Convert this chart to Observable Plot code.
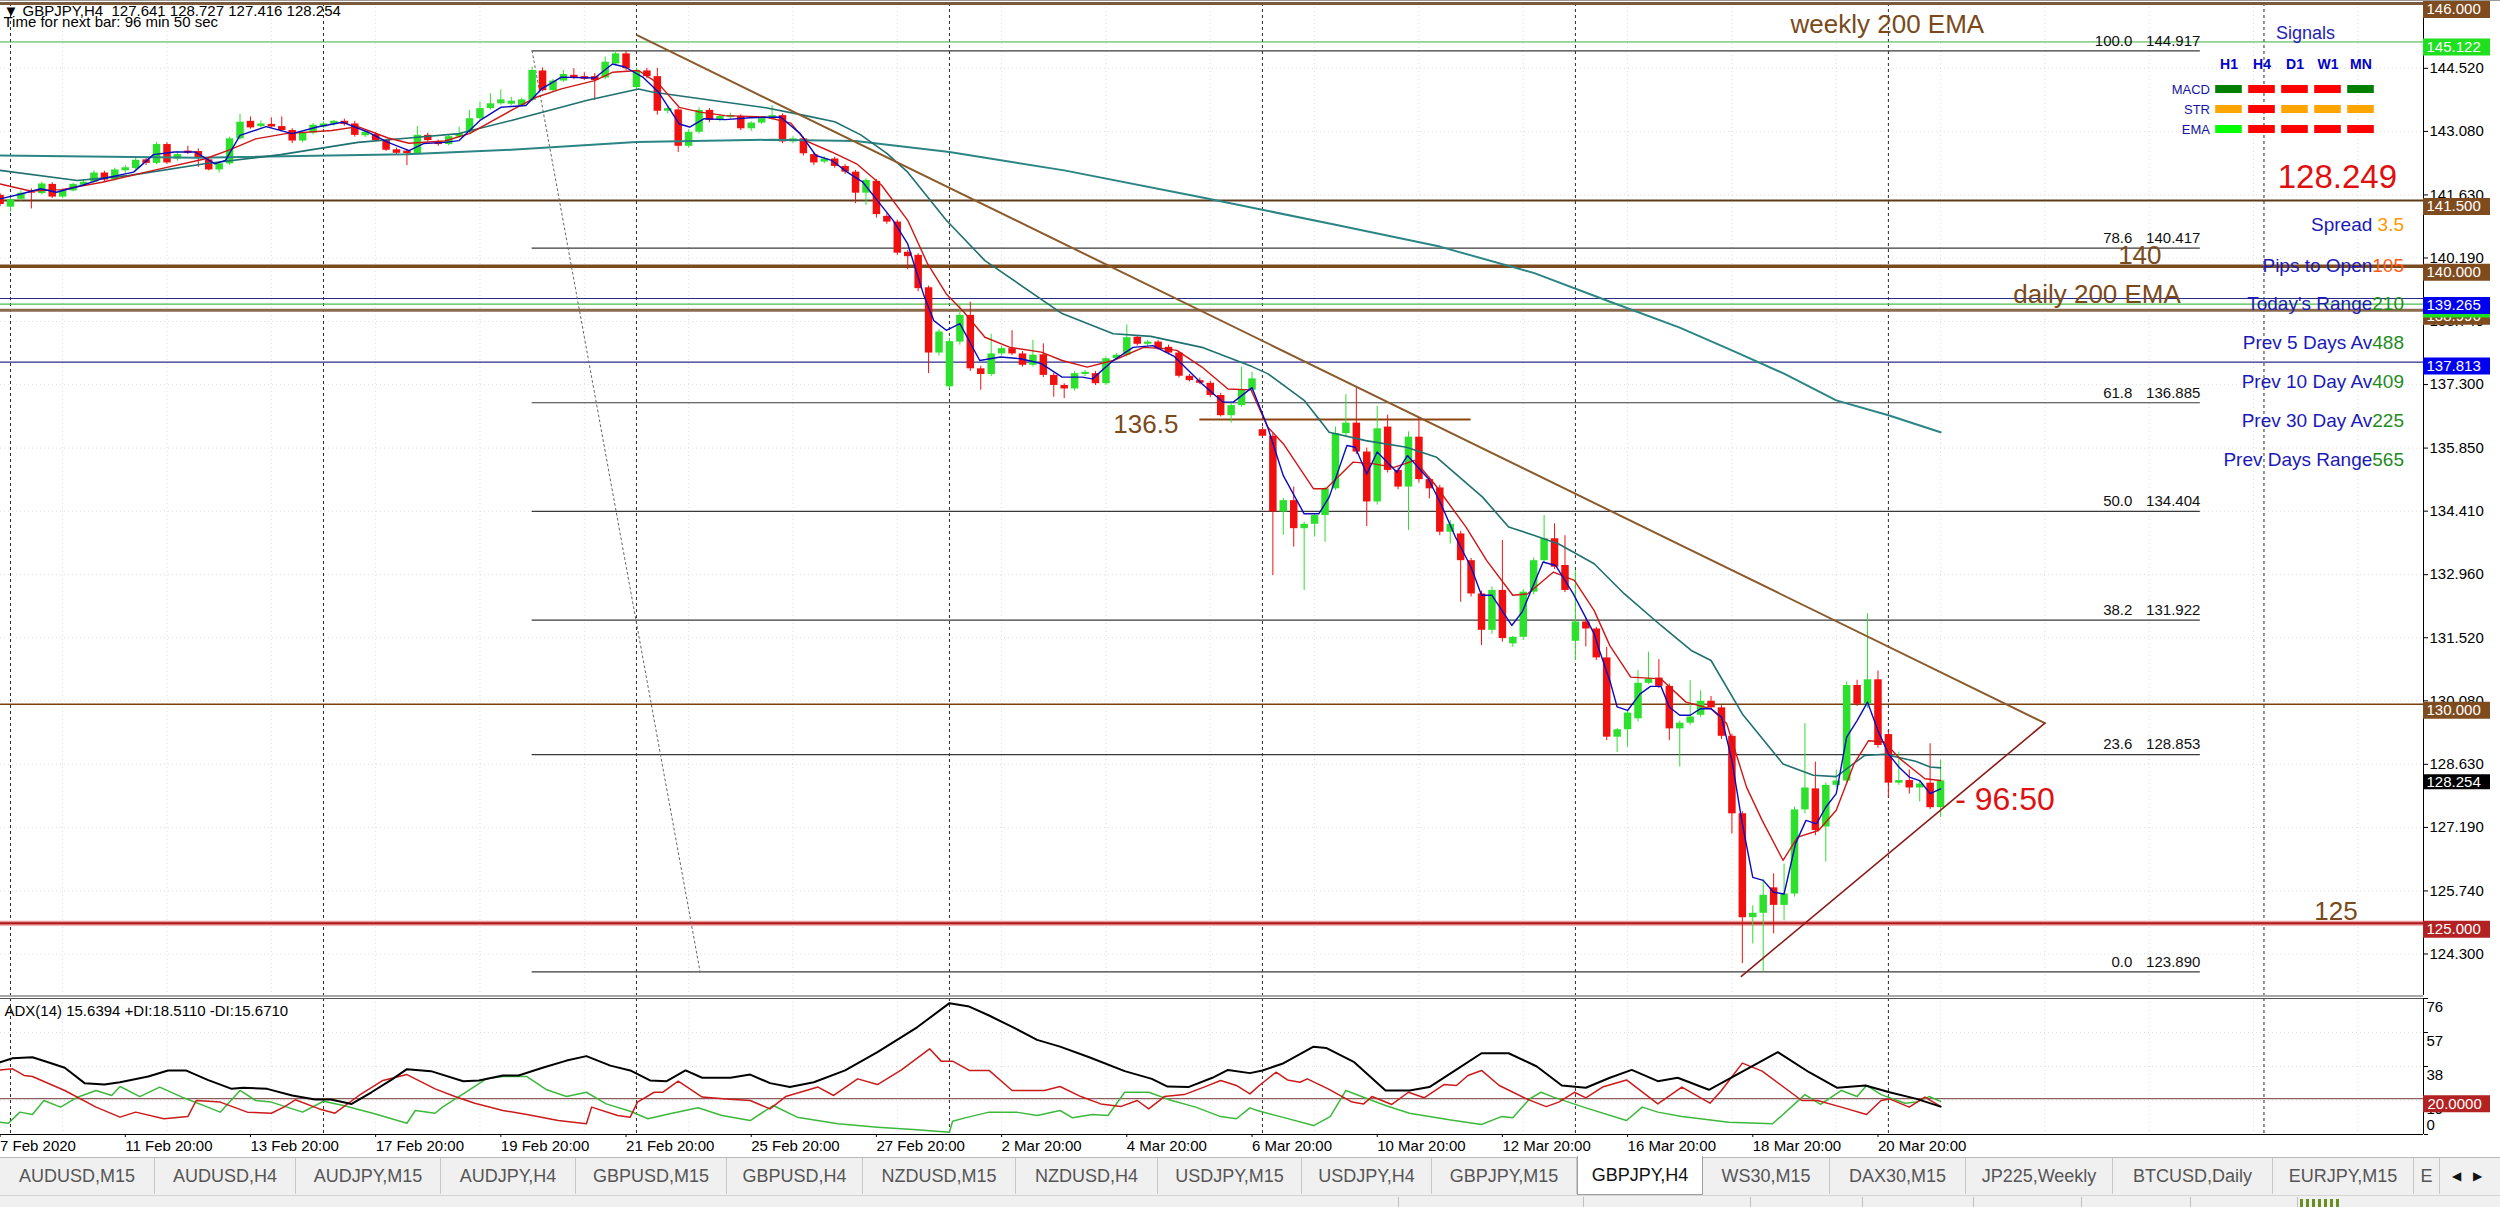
<!DOCTYPE html>
<html>
<head>
<meta charset="utf-8">
<title>GBPJPY,H4</title>
<script src="https://cdn.jsdelivr.net/npm/d3@7"></script>
<script src="https://cdn.jsdelivr.net/npm/@observablehq/plot@0.6"></script>
<style>
  html, body { margin: 0; padding: 0; background: #ffffff; }
  #root { position: relative; width: 2500px; height: 1207px; overflow: hidden; background: #ffffff;
          font-family: "Liberation Sans", Arial, sans-serif; }
  .hud { position: absolute; white-space: nowrap; line-height: 1; }
</style>
</head>
<body>
<div id="root"></div>
<script>
// ======================= DATA =======================
// H4 bars, bar index 0 = Mon 10 Feb 2020 00:00, first visible bar = -1
const firstBar = -1;
const opens = [141.62,
 141.35,141.53,141.70,141.66,141.87,141.58,141.72,141.85,141.92,142.13,
 141.98,142.18,142.23,142.43,142.35,142.78,142.45,142.63,142.62,142.43,
 142.20,142.34,142.91,143.31,143.19,143.24,143.19,143.10,142.86,143.04,
 143.18,143.24,143.31,143.25,142.98,143.01,142.87,142.66,142.63,142.57,
 142.99,142.84,142.78,142.95,143.06,143.37,143.60,143.71,143.70,143.67,
 143.79,144.46,144.01,144.23,144.36,144.33,144.33,144.30,144.62,144.85,
 144.08,144.46,144.33,143.54,143.57,142.74,143.06,143.56,143.33,143.40,
 143.42,143.14,143.27,143.37,143.44,142.84,142.91,142.55,142.38,142.45,
 142.28,142.15,141.67,141.94,141.14,141.01,140.32,140.25,139.51,138.02,
 137.25,138.27,138.88,137.66,137.53,138.00,138.12,138.00,137.74,137.98,
 137.51,137.28,137.20,137.53,137.55,137.32,137.89,137.97,138.38,138.22,
 138.27,138.15,138.02,137.49,137.39,137.33,137.05,136.59,136.82,137.17,
 136.27,136.12,134.39,134.65,134.01,134.11,134.31,134.92,136.18,136.42,
 135.76,134.62,136.33,135.34,134.96,136.10,135.13,134.94,133.93,133.89,
 133.28,132.52,131.69,132.60,131.38,131.53,132.56,133.28,133.78,133.17,
 131.44,131.88,131.72,131.06,129.25,129.42,129.67,130.48,130.60,130.41,
 129.44,129.57,129.75,130.07,129.92,129.27,127.50,125.13,125.23,125.81,
 125.41,125.67,127.59,128.07,127.20,128.15,128.25,130.43,130.00,130.56,
 129.31,128.20,128.26,128.09,128.20,127.641];
const highs = [141.66,
 141.56,141.72,141.77,141.92,141.91,141.76,141.90,141.97,142.18,142.17,
 142.24,142.30,142.49,142.48,142.83,142.82,142.62,142.74,142.68,142.47,
 142.37,142.95,143.47,143.41,143.32,143.39,143.41,143.14,143.08,143.26,
 143.30,143.33,143.36,143.31,143.10,143.05,142.90,142.70,142.67,143.19,
 143.04,142.88,143.00,143.18,143.56,143.75,143.94,144.03,143.86,143.84,
 144.55,144.53,144.27,144.47,144.51,144.42,144.40,144.78,144.92,144.92,
 144.52,144.52,144.52,143.66,143.62,143.12,143.62,143.60,143.47,143.50,
 143.46,143.30,143.40,143.67,143.48,142.96,142.95,142.58,142.50,142.49,
 142.32,142.19,142.00,141.98,141.20,141.05,140.36,140.29,139.55,138.56,
 138.35,139.10,139.18,137.72,138.45,138.18,138.53,138.05,138.31,138.23,
 137.56,137.32,137.60,137.62,137.60,137.93,138.01,138.66,138.42,138.31,
 138.31,138.20,138.06,137.53,137.45,137.38,137.10,136.90,137.70,137.58,
 136.33,136.18,134.70,134.96,134.16,134.35,134.96,136.33,137.07,137.23,
 135.85,136.80,136.60,135.40,136.22,136.54,135.18,135.00,134.20,133.95,
 133.33,132.58,132.68,133.74,131.55,132.62,133.34,134.31,134.12,133.85,
 133.05,131.95,131.76,131.30,129.45,129.85,130.77,131.19,131.02,130.46,
 129.62,130.54,130.31,130.18,129.97,129.32,127.55,125.40,126.00,126.13,
 126.35,127.65,129.56,128.68,128.20,128.50,130.51,130.55,132.07,130.76,
 129.40,128.91,128.50,128.25,129.10,128.727];
const lows = [141.36,
 141.24,141.49,141.31,141.63,141.55,141.55,141.70,141.82,141.90,141.93,
 141.95,142.12,142.20,142.30,142.32,142.33,142.40,142.55,142.26,142.18,
 142.13,142.30,142.88,143.13,143.16,143.15,143.07,142.80,142.82,143.00,
 143.15,143.20,143.20,142.95,142.94,142.84,142.62,142.55,142.30,142.55,
 142.84,142.74,142.75,142.92,143.02,143.34,143.57,143.68,143.66,143.64,
 143.75,143.98,143.98,144.20,144.26,144.24,143.79,144.26,144.58,144.46,
 144.00,144.28,143.45,143.48,142.60,142.70,143.02,143.28,143.30,143.36,
 143.10,143.08,143.24,143.34,142.80,142.80,142.52,142.30,142.34,142.24,
 142.10,141.43,141.39,141.10,140.96,140.25,139.92,139.42,137.55,137.95,
 137.20,138.20,137.60,137.17,137.48,137.95,137.96,137.70,137.70,137.46,
 137.01,136.98,137.15,137.48,137.28,137.28,137.85,137.93,138.18,138.18,
 138.08,137.98,137.45,137.36,137.30,137.00,136.56,136.42,136.78,137.13,
 136.10,132.94,133.86,133.59,132.60,133.82,133.70,134.88,136.10,135.70,
 134.06,134.55,135.28,134.90,133.97,135.05,134.69,133.85,133.66,132.33,
 132.45,131.34,131.60,131.42,131.30,131.46,132.50,133.22,133.08,132.55,
 131.00,131.31,131.00,129.17,128.90,129.02,129.60,130.45,130.36,129.17,
 128.57,129.52,129.70,129.88,129.20,127.04,124.08,124.53,123.89,124.76,
 125.06,125.60,127.50,127.00,126.40,128.10,128.20,129.95,129.90,129.00,
 127.88,128.15,127.95,127.77,127.60,127.416];
const closes = [141.41,
 141.52,141.67,141.67,141.88,141.58,141.72,141.87,141.92,142.13,141.97,
 142.20,142.25,142.42,142.35,142.78,142.36,142.55,142.58,142.48,142.20,
 142.34,142.91,143.29,143.16,143.25,143.18,143.10,142.86,143.04,143.22,
 143.25,143.31,143.24,142.99,143.06,142.87,142.65,142.58,142.57,142.99,
 142.87,142.78,142.96,143.03,143.37,143.60,143.71,143.80,143.77,143.80,
 144.47,144.01,144.23,144.38,144.30,144.27,144.24,144.66,144.85,144.51,
 144.47,144.33,143.54,143.60,142.74,143.06,143.56,143.33,143.42,143.44,
 143.14,143.27,143.37,143.44,142.84,142.91,142.57,142.36,142.45,142.28,
 142.15,141.67,141.96,141.18,141.01,140.30,140.22,139.49,138.02,138.50,
 138.28,138.88,137.66,137.53,138.00,138.12,138.00,137.74,137.97,137.51,
 137.28,137.20,137.55,137.58,137.32,137.89,137.97,138.37,138.22,138.27,
 138.12,138.02,137.49,137.39,137.33,137.05,136.59,136.82,137.17,137.43,
 136.12,134.39,134.65,134.01,134.11,134.31,134.92,136.18,136.42,135.76,
 134.62,136.29,135.34,134.96,136.10,135.13,134.92,133.93,134.11,133.28,
 132.52,131.69,132.60,131.50,131.53,132.56,133.28,133.78,133.13,132.60,
 131.88,131.72,131.06,129.25,129.42,129.80,130.48,130.58,130.41,129.44,
 129.57,129.71,130.07,129.92,129.27,127.50,125.13,125.23,125.64,125.41,
 125.67,127.59,128.09,127.12,128.15,128.25,130.43,130.00,130.56,129.06,
 128.20,128.26,128.09,128.18,127.64,128.254];

// Moving averages: [bar index, price]
const emaFast = [[-1,141.54],[1,141.65],[2.9,141.77],[4.4,141.69],[6.9,141.85],[8.8,142.0],[11.8,142.15],[13.7,142.55],[15.7,142.61],[17.7,142.61],[19.6,142.34],[20.6,142.42],[22,142.99],[24.5,143.19],[27,143.03],[29.4,143.18],[31.8,143.29],[34.3,143.06],[36.2,142.83],[38.2,142.64],[39.6,142.80],[41.6,142.83],[43,142.87],[45,143.33],[47,143.63],[49.4,143.67],[50.9,144.05],[52.8,144.32],[56,144.30],[57.7,144.62],[58.9,144.55],[60.6,144.32],[62.1,143.98],[64.1,143.25],[65.1,143.18],[66.5,143.37],[68.5,143.35],[70.9,143.39],[73.8,143.41],[75.7,143.03],[77.2,142.53],[78.7,142.42],[80.2,142.15],[81.7,141.92],[83.1,141.50],[84.6,141.05],[86,140.51],[87.5,139.37],[88.5,138.76],[89.7,138.54],[91,138.69],[92.9,137.85],[94.9,137.93],[96.8,137.89],[98.8,137.78],[100.8,137.47],[102.7,137.47],[103.7,137.43],[105.7,137.85],[107.6,138.15],[109.5,138.19],[111.5,137.95],[114.2,137.32],[116.2,136.90],[117.2,136.90],[119,137.23],[120.5,136.33],[122,135.22],[124,134.35],[125.4,134.35],[126.4,134.73],[128.1,135.91],[128.9,135.87],[130,135.26],[131,135.76],[132.9,135.30],[133.9,135.68],[135.9,135.15],[137.1,134.58],[138.5,133.82],[140,133.13],[141,132.49],[142,132.49],[143.9,131.80],[144.9,132.11],[146.9,133.25],[148.1,133.17],[149.8,132.52],[151.8,131.61],[152.3,131.23],[153.3,130.54],[154,129.94],[155,129.86],[156.2,130.24],[157.2,130.41],[158.2,130.41],[159,129.94],[160,129.75],[161,129.75],[162,129.90],[163,129.90],[164,129.71],[165,128.72],[166,127.27],[167,126.05],[168,125.98],[169,125.71],[170,125.67],[171.1,126.82],[172.1,127.35],[173.1,127.27],[174,127.65],[175,127.96],[176,129.25],[177,129.63],[178,130.05],[179,129.40],[180,128.87],[181,128.57],[182,128.34],[183,128.26],[184,127.96],[185,128.07]];
const emaMid = [[-1,141.88],[1.9,141.72],[4.9,141.75],[8.8,141.92],[13.7,142.19],[18.6,142.45],[21,142.66],[23.5,142.91],[26.4,143.03],[30.8,143.10],[33.3,143.19],[36.2,142.93],[38.2,142.81],[41.6,142.86],[44,143.03],[48,143.56],[50.4,143.86],[52.8,144.05],[56,144.24],[57.7,144.43],[60.2,144.47],[62.1,144.17],[64.1,143.63],[66.1,143.52],[68.5,143.44],[72.4,143.41],[74.8,143.27],[76.2,142.87],[78.7,142.61],[81.1,142.34],[83.5,141.85],[86,141.05],[87.9,140.06],[89.7,139.37],[91.4,138.95],[93.4,138.38],[95.8,138.15],[98.8,138.04],[100.8,137.85],[103.2,137.70],[105.7,137.85],[108.6,138.15],[110.6,138.12],[111.8,138.08],[114.2,137.70],[116.7,137.20],[118.9,137.18],[120.5,136.33],[122,135.95],[124.9,134.92],[126.1,134.92],[128.7,135.53],[130.7,135.49],[132.6,135.41],[134.6,135.57],[136.5,135.03],[139.5,134.05],[141.5,133.28],[144,132.49],[145.4,132.52],[147.9,133.02],[149.9,132.83],[151.8,132.14],[153.3,131.34],[155.3,130.62],[158.2,130.58],[160.6,130.05],[163,129.90],[164.5,129.56],[166.4,128.11],[167.9,127.35],[169.9,126.44],[171.3,126.97],[173.3,127.12],[175,127.58],[176.7,128.64],[178.1,129.17],[179.6,129.14],[181.1,128.76],[183.5,128.30],[185,128.26]];
const emaTrend = [[-1,142.19],[6.4,141.96],[11.3,142.07],[18.6,142.34],[25.9,142.55],[33.3,142.83],[38.2,142.93],[43,143.03],[48,143.33],[55.3,143.79],[60.2,144.05],[61.5,143.98],[65.1,143.86],[72.4,143.62],[76.2,143.44],[79,143.30],[81.5,143.00],[84,142.58],[86,142.15],[89.7,141.05],[93.4,140.13],[100.8,138.92],[105.7,138.46],[109.3,138.40],[114.2,138.15],[119,137.71],[120.5,137.55],[124,136.94],[126.4,136.21],[129.9,136.02],[133.8,135.87],[136.7,135.64],[141.1,134.73],[143.6,134.05],[146,133.86],[148.4,133.66],[151.8,133.21],[154.7,132.52],[158.2,131.80],[161.1,131.23],[163,131.0],[166,129.78],[169.9,128.64],[172.8,128.38],[175,128.35],[177.7,128.83],[179.6,128.86],[182.6,128.70],[184,128.57],[185,128.55]];
const emaSlow = [[-1,142.53],[18,142.48],[38,142.56],[48,142.66],[60,142.84],[73,142.89],[81,142.86],[90,142.61],[101,142.19],[114,141.58],[127,140.95],[137,140.45],[146,139.85],[153,139.22],[160,138.6],[165,138.08],[170,137.55],[175,136.94],[180,136.6],[185,136.21]];

// ADX(14) panel: [bar index, value]
const adxMain = [[-1,40.4],[0.2,42.6],[2.1,43.2],[3.6,40.4],[5.2,37.3],[7.1,28.7],[9,27.9],[10.5,29.2],[13.2,32.4],[15.1,35.8],[16.8,35.8],[18.9,30.5],[21.2,25.5],[22.3,26.1],[24.6,25.5],[27,21.8],[29.2,19.6],[30.7,19.6],[32.7,17.1],[34.6,23.6],[36.5,30.5],[38,36.5],[40.3,35.4],[43.4,29.8],[44.9,30.2],[47.2,33.0],[48.7,33.0],[51,37.3],[53.3,41.3],[55.2,43.8],[57.5,38.5],[59.4,35.8],[61.3,30.2],[62.9,29.8],[64.7,35.8],[66.3,31.7],[69,31.7],[70.9,33.5],[72.8,28.7],[74.7,26.5],[77,29.2],[80,35.8],[83.1,46.0],[86.9,59.9],[90,73.4],[91.9,71.5],[93.8,66.5],[96.4,59.0],[98.4,52.9],[100.6,49.1],[103.4,43.2],[106.8,35.4],[109.4,31.1],[110.9,26.8],[112.9,26.5],[115.2,31.7],[116.7,36.1],[118.8,34.3],[120,35.8],[121.9,39.5],[124.9,49.1],[126.1,48.4],[128.8,40.4],[131.8,24.6],[134.1,24.6],[136,26.5],[138.7,36.7],[141,45.4],[143.6,45.4],[146.3,38.0],[148.7,27.4],[151,26.1],[153.3,31.7],[155.4,36.1],[157.9,29.8],[159.8,31.7],[162.8,25.0],[166.3,36.1],[169.4,46.0],[172.4,34.8],[175.1,26.1],[177.8,27.4],[180.1,23.6],[182.7,19.9],[185,15.6]];
const adxMinusDI = [[-1,36.1],[0.2,36.7],[1.3,33.0],[2.1,32.4],[5.2,24.6],[8.2,15.3],[10.5,9.7],[12,12.5],[14.7,8.8],[17,10.0],[17.8,19.0],[20.1,18.1],[22.7,12.5],[25,11.9],[26.2,15.3],[27.3,19.4],[29.6,14.3],[31.1,11.9],[33.4,21.8],[35.7,30.2],[38,33.5],[40.7,25.5],[42.6,21.2],[44.5,17.5],[47.2,13.4],[49.5,11.2],[52.5,7.8],[55.2,6.0],[55.7,15.3],[58.2,10.6],[59.4,9.7],[60.1,18.1],[61.7,23.6],[62.5,23.6],[64,29.8],[66.3,20.9],[68.6,19.9],[70.9,19.0],[72.8,14.3],[74.3,21.2],[77.4,26.5],[78.9,21.8],[81.2,31.1],[83.1,27.9],[85.4,36.1],[88.1,47.9],[89.2,41.0],[90.3,41.0],[91.9,35.8],[93.8,35.8],[96,24.6],[97.2,24.6],[99.1,24.6],[100.6,26.8],[102.6,21.2],[104.5,17.1],[106.4,15.6],[108,19.0],[109.1,14.3],[110.6,21.2],[112.5,22.3],[114.4,26.5],[116,30.2],[117.5,27.4],[118.8,22.7],[119.7,27.4],[121.3,34.8],[122.4,30.5],[123.6,29.2],[124.3,31.1],[126.3,25.5],[128.6,18.1],[129.7,17.1],[130.5,21.2],[132.4,16.8],[134,23.6],[135.5,20.5],[137.4,27.9],[138.6,27.4],[139.7,33.0],[141,35.8],[142.7,27.4],[145.3,19.9],[147.2,15.6],[148.4,18.1],[149.9,23.6],[151,20.5],[152.6,26.5],[154.9,30.5],[157.9,17.1],[160.2,26.5],[162.9,17.5],[164,24.6],[166,39.9],[167.9,35.4],[171.7,19.0],[173.2,19.0],[175.5,15.3],[177.9,11.2],[179.3,19.0],[180.1,19.9],[182,15.3],[183.5,20.9],[185,15.7]];
const adxPlusDI = [[-1,6.9],[-0.2,6.3],[0.9,12.5],[2.1,11.2],[3.2,19.0],[4.8,15.3],[6.3,20.5],[8.2,24.6],[9.7,21.8],[10.5,26.8],[12.4,21.2],[14.3,26.5],[16.6,20.5],[18.9,15.3],[20.1,12.5],[22,24.6],[23.5,19.0],[25,18.1],[28,12.5],[30,18.6],[31.9,16.2],[34.9,11.6],[38,6.3],[38.8,13.4],[40.7,11.9],[41.4,15.3],[43.4,22.7],[45.6,31.1],[47.2,32.4],[49.5,32.4],[51.4,25.0],[53.3,21.2],[55.2,23.6],[57.1,17.1],[59.4,13.0],[61.1,8.8],[63.2,11.6],[65.9,14.9],[68.2,10.6],[70.9,7.8],[73.1,16.2],[75.4,9.7],[79.3,6.0],[83.1,4.1],[86.9,2.6],[90,1.3],[90.3,7.4],[91.5,9.3],[93.8,12.5],[96.4,12.5],[98.4,10.6],[100.6,13.4],[101.8,9.3],[103.7,11.2],[105.2,10.6],[106.8,23.6],[109.1,23.6],[111.3,19.0],[113.6,15.3],[116,10.0],[117.5,8.8],[118.8,14.9],[119.5,13.4],[121.9,9.7],[124.9,5.0],[126.5,10.0],[128,24.6],[129.5,21.2],[131.8,16.2],[134.1,11.9],[137.9,8.2],[141,5.6],[142.9,10.0],[144,9.3],[145.6,19.9],[146.7,23.6],[147.9,20.9],[151,14.9],[154.9,7.8],[156.4,15.3],[157.9,12.5],[160.2,10.0],[164.7,6.9],[168.9,6.0],[172,22.3],[173.5,16.8],[175.5,24.6],[177,21.2],[177.9,27.4],[179.3,22.3],[181.6,17.5],[182.7,18.1],[183.9,21.2],[185,18.5]];
const adxLevel = 20;
const adxTicks = [76, 57, 38, 19];
const adxZeroTick = [0];

// Horizontal price levels (objects on chart)
const levelNames  = ["top146","green145","brown1415","brown140","blue139","green139","brown139","blue137","brown130","red125"];
const levelPrices = [146.000, 145.122, 141.500, 140.000, 139.265, 139.137, 138.996, 137.813, 130.000, 125.000];

// Fibonacci retracement
const fibLevels = ["100.0","78.6","61.8","50.0","38.2","23.6","0.0"];
const fibPrices = [144.917, 140.417, 136.885, 134.404, 131.922, 128.853, 123.890];
const fibSpan = [50, 209.9];                       // bar index of the fib object's two anchors
const fibDiagonal = [[50, 144.917], [66.1, 123.890]];

// Trend lines and a short support line
const trendDown = [[60.1, 145.27], [195.0, 129.57]];
const trendUp   = [[165.9, 123.79], [195.0, 129.57]];
const shortLinePrice = 136.5, shortLineBars = [114.0, 140.0];

// Text objects anchored at (bar index, price)
const noteTexts  = ["weekly 200 EMA", "daily 200 EMA", "140", "125", "136.5", "- 96:50"];
const noteBars   = [179.9, 200.0, 204.1, 222.9, 111.95, 186.4];
const notePrices = [145.52, 139.36, 140.25, 125.27, 136.39, 127.83];

// Axes
const priceTicks = [144.520,143.080,141.630,140.190,138.740,137.300,135.850,134.410,132.960,131.520,130.080,128.630,127.190,125.740,124.300];
const timeLabelBars = [-1, 11, 23, 35, 47, 59, 71, 83, 95, 107, 119, 131, 143, 155, 167, 179];
const timeLabels = ["7 Feb 2020","11 Feb 20:00","13 Feb 20:00","17 Feb 20:00","19 Feb 20:00","21 Feb 20:00","25 Feb 20:00","27 Feb 20:00","2 Mar 20:00","4 Mar 20:00","6 Mar 20:00","10 Mar 20:00","12 Mar 20:00","16 Mar 20:00","18 Mar 20:00","20 Mar 20:00"];
const weekSeparatorBars = [0, 30, 60, 90, 120, 150, 180, 216];
const gridBars = [5,15,25,35,45,55,65,75,85,95,105,115,125,135,145,155,165,175,185,195,205,215,225];

// Header texts
const headerText = "\u25BC GBPJPY,H4  127.641 128.727 127.416 128.254";
const timerText = "Time for next bar: 96 min 50 sec";
const adxText = "ADX(14) 15.6394 +DI:18.5110 -DI:15.6710";

// Signals panel
const signalTimeframes = ["H1","H4","D1","W1","MN"];
const signalRows = ["MACD","STR","EMA"];
const signalStates = [
  ["up","down","down","down","up"],
  ["flat","down","flat","flat","flat"],
  ["fast","down","down","down","down"]
];
const bidText = "128.249";
const infoLabels = ["Spread ", "Pips to Open", "Today's Range", "Prev 5 Days Av", "Prev 10 Day Av", "Prev 30 Day Av", "Prev Days Range"];
const infoValues = ["3.5", "105", "210", "488", "409", "225", "565"];

// Terminal tabs
const tabNames = ["AUDUSD,M15","AUDUSD,H4","AUDJPY,M15","AUDJPY,H4","GBPUSD,M15","GBPUSD,H4","NZDUSD,M15","NZDUSD,H4","USDJPY,M15","USDJPY,H4","GBPJPY,M15","GBPJPY,H4","WS30,M15","DAX30,M15","JP225,Weekly","BTCUSD,Daily","EURJPY,M15","E"];
const activeTab = "GBPJPY,H4";

// ======================= STYLE / LAYOUT =======================
const FONT = '"Liberation Sans", Arial, sans-serif';
const BULL = "#2ee02e", BEAR = "#f01010";
const xDomain = [-0.9585, 231.29];          // pixel 0 .. 2423
const priceDomain = [123.3525, 146.0];      // pixel 995 .. 3
const levelStyle = {
  top146:    {stroke: "#7a5a3e", width: 3,   box: "#7f4c1f", dy: 6},
  green145:  {stroke: "#3cb043", width: 1,   box: "#1ee01e", dy: 5},
  brown1415: {stroke: "#5e3a1a", width: 2,   box: "#7f4c1f", dy: 6},
  brown140:  {stroke: "#7b4a1e", width: 3.5, box: "#7f4c1f", dy: 6},
  blue139:   {stroke: "#2b2b8c", width: 1.2, box: "#0000f0", dy: 7},
  green139:  {stroke: "#4cbb4c", width: 1.2, box: "#1ee01e", dy: 5},
  brown139:  {stroke: "#8b6b4b", width: 3,   box: "#7f4c1f", dy: 6},
  blue137:   {stroke: "#2b2b8c", width: 1.2, box: "#0000f0", dy: 4},
  brown130:  {stroke: "#7b3f10", width: 1.5, box: "#7f4c1f", dy: 6},
  red125:    {stroke: "#b01818", width: 2,   box: "#b22222", dy: 6, halo: "#e89a9a"}
};
const boxOrder = ["top146","green145","brown1415","brown140","brown139","green139","blue139","blue137","brown130","red125"];
const noteStyle = [
  {size: 26, fill: "#7a4a1a", anchor: "middle"},
  {size: 26, fill: "#7a4a1a", anchor: "middle"},
  {size: 26, fill: "#7a4a1a", anchor: "middle"},
  {size: 26, fill: "#7a4a1a", anchor: "middle"},
  {size: 26, fill: "#7a4a1a", anchor: "end"},
  {size: 32, fill: "#dd1111", anchor: "start"}
];
const signalPalette = {up: "#007f00", down: "#ff0000", flat: "#ffa500", fast: "#00ff00"};
const infoValueColors = ["#ff9900", "#ff5a14", "#1e8c1e", "#1e8c1e", "#1e8c1e", "#1e8c1e", "#1e8c1e"];
const infoCenters = [224, 265, 303, 342, 381, 420, 459];
const tabEdges = [0,155,296,441,576,727,863,1016,1158,1302,1432,1577,1703,1830,1966,2113,2273,2414,2440];

// ======================= BUILD =======================
const root = document.getElementById("root");
function place(el, left, top) {
  el.style.position = "absolute";
  el.style.left = left + "px";
  el.style.top = top + "px";
  el.style.margin = "0";
  root.appendChild(el);
}
const plotStyle = {background: "transparent", fontFamily: FONT, fontSize: "15px", overflow: "visible", color: "#000"};

const bars = opens.map((o, k) => ({i: firstBar + k, o, h: highs[k], l: lows[k], c: closes[k]}));
const levels = levelNames.map((name, k) => ({name, price: levelPrices[k]}));
const fibTable = fibLevels.map((lv, k) => ({level: lv, price: fibPrices[k]}));
const notes = noteTexts.map((t, k) => ({text: t, i: noteBars[k], p: notePrices[k], k}));
const candleColor = d => d.c >= d.o ? BULL : BEAR;

const levelMarks = [];
for (const d of levels) {
  const s = levelStyle[d.name];
  if (s.halo) levelMarks.push(Plot.ruleY([d.price], {stroke: s.halo, strokeWidth: s.width + 3}));
  levelMarks.push(Plot.ruleY([d.price], {stroke: s.stroke, strokeWidth: s.width}));
}
const noteMarks = notes.map(n => Plot.text([n], {
  x: "i", y: "p", text: "text", fontSize: noteStyle[n.k].size, fill: noteStyle[n.k].fill,
  textAnchor: noteStyle[n.k].anchor, lineAnchor: "middle"
}));

const mainPlot = Plot.plot({
  width: 2500, height: 998,
  marginLeft: 0, marginRight: 77, marginTop: 3, marginBottom: 3,
  x: {domain: xDomain, axis: null},
  y: {domain: priceDomain, axis: null},
  color: {type: "identity"},
  style: plotStyle,
  marks: [
    Plot.ruleY(priceTicks, {stroke: "#dedede", strokeDasharray: "1,3"}),
    Plot.ruleX(gridBars, {stroke: "#dedede", strokeDasharray: "1,3"}),
    Plot.ruleX(weekSeparatorBars, {stroke: "#2a2a2a", strokeDasharray: "3,3"}),
    ...levelMarks,
    Plot.ruleY(fibPrices, {x1: () => fibSpan[0], x2: () => fibSpan[1], stroke: "#3a3a3a", strokeWidth: 1.2}),
    Plot.line(fibDiagonal, {stroke: "#666", strokeDasharray: "2,3", strokeWidth: 1}),
    Plot.ruleY([shortLinePrice], {x1: () => shortLineBars[0], x2: () => shortLineBars[1], stroke: "#8b4513", strokeWidth: 2}),
    Plot.ruleX(bars, {x: "i", y1: "l", y2: "h", stroke: candleColor, strokeWidth: 1}),
    Plot.ruleX(bars, {x: "i", y1: "o", y2: "c", stroke: candleColor, strokeWidth: 7.5}),
    Plot.line(emaSlow, {stroke: "#2b8585", strokeWidth: 2}),
    Plot.line(emaTrend, {stroke: "#1f7070", strokeWidth: 1.6}),
    Plot.line(emaMid, {stroke: "#d01515", strokeWidth: 1.4}),
    Plot.line(emaFast, {stroke: "#0a0ac0", strokeWidth: 1.4}),
    Plot.line(trendDown, {stroke: "#8b5a2b", strokeWidth: 2}),
    Plot.line(trendUp, {stroke: "#8b1a1a", strokeWidth: 1.6}),
    Plot.text(fibTable, {x: () => fibSpan[1], y: "price", text: d => d.price.toFixed(3), textAnchor: "end", dy: -10, fontSize: 15, fill: "#111"}),
    Plot.text(fibTable, {x: () => fibSpan[1], y: "price", text: "level", textAnchor: "end", dx: -68, dy: -10, fontSize: 15, fill: "#111"}),
    ...noteMarks,
    Plot.ruleX([xDomain[1]], {stroke: "#000", strokeWidth: 1}),
    Plot.axisY(priceTicks, {anchor: "right", tickSize: 4, tickPadding: 2, tickFormat: d => d.toFixed(3), fontSize: 15, fill: "#000", label: null}),
    Plot.text([headerText], {frameAnchor: "top-left", dx: 3, dy: 8, textAnchor: "start", lineAnchor: "middle", fontSize: 15, fill: "#000"}),
    Plot.text([timerText], {frameAnchor: "top-left", dx: 3, dy: 19, textAnchor: "start", lineAnchor: "middle", fontSize: 15, fill: "#000"})
  ]
});
place(mainPlot, 0, 0);

// price boxes on the right scale
const boxMarks = [];
for (const name of boxOrder) {
  const s = levelStyle[name];
  const price = levelPrices[levelNames.indexOf(name)];
  boxMarks.push(Plot.ruleY([price], {stroke: s.box, strokeWidth: 17, dy: s.dy}));
  boxMarks.push(Plot.text([price], {y: d => d, text: d => d.toFixed(3), frameAnchor: "left", dx: 3, dy: s.dy, fill: "#fff", textAnchor: "start", fontSize: 15}));
}
const bid = closes[closes.length - 1];
boxMarks.push(Plot.ruleY([bid], {stroke: "#000", strokeWidth: 15, dy: 1}));
boxMarks.push(Plot.text([bid], {y: d => d, text: d => d.toFixed(3), frameAnchor: "left", dx: 3, dy: 1, fill: "#fff", textAnchor: "start", fontSize: 15}));
const boxPlot = Plot.plot({
  width: 67, height: 998, marginLeft: 0, marginRight: 0, marginTop: 3, marginBottom: 3,
  x: {domain: [0, 1], axis: null}, y: {domain: priceDomain, axis: null},
  style: plotStyle, marks: boxMarks
});
place(boxPlot, 2423, 0);

// ADX panel
const adxPlot = Plot.plot({
  width: 2500, height: 159,
  marginLeft: 0, marginRight: 77, marginTop: 0, marginBottom: 23,
  x: {domain: xDomain}, y: {domain: [0, 76]},
  style: plotStyle,
  marks: [
    Plot.ruleY([57, 38, 19], {stroke: "#dedede", strokeDasharray: "1,3"}),
    Plot.ruleX(gridBars, {stroke: "#dedede", strokeDasharray: "1,3"}),
    Plot.ruleX(weekSeparatorBars, {stroke: "#2a2a2a", strokeDasharray: "3,3"}),
    Plot.ruleY([adxLevel], {stroke: "#8b5e5e", strokeWidth: 1.2}),
    Plot.line(adxPlusDI, {stroke: "#3cb83c", strokeWidth: 1.5}),
    Plot.line(adxMinusDI, {stroke: "#cc1a1a", strokeWidth: 1.5}),
    Plot.line(adxMain, {stroke: "#000", strokeWidth: 2}),
    Plot.ruleY([0], {stroke: "#000"}),
    Plot.ruleY([76], {stroke: "#555"}),
    Plot.ruleX([xDomain[1]], {stroke: "#000"}),
    Plot.axisY(adxTicks.concat(adxZeroTick), {anchor: "right", tickSize: 4, tickFormat: () => "", label: null}),
    Plot.text(adxTicks, {y: d => d, text: d => String(d), frameAnchor: "right", dx: 3, dy: 9, textAnchor: "start", fontSize: 15, fill: "#000"}),
    Plot.text(adxZeroTick, {y: d => d, text: d => String(d), frameAnchor: "right", dx: 3, dy: -9, textAnchor: "start", fontSize: 15, fill: "#000"}),
    Plot.axisX(timeLabelBars, {anchor: "bottom", tickSize: 3, tickPadding: 3, tickFormat: d => timeLabels[timeLabelBars.indexOf(d)], textAnchor: "start", fontSize: 15, fill: "#000", label: null}),
    Plot.text([adxText], {frameAnchor: "top-left", dx: 4, dy: 13, textAnchor: "start", lineAnchor: "middle", fontSize: 15, fill: "#000"})
  ]
});
place(adxPlot, 0, 998);

const adxBox = Plot.plot({
  width: 67, height: 159, marginLeft: 0, marginRight: 0, marginTop: 0, marginBottom: 23,
  x: {domain: [0, 1], axis: null}, y: {domain: [0, 76], axis: null},
  style: plotStyle,
  marks: [
    Plot.ruleY([adxLevel], {stroke: "#b22222", strokeWidth: 17, dy: 5}),
    Plot.text([adxLevel], {y: d => d, text: d => d.toFixed(4), frameAnchor: "left", dx: 4, dy: 5, fill: "#fff", textAnchor: "start", fontSize: 15})
  ]
});
place(adxBox, 2423, 998);

// Signals grid
const signalCells = [];
signalRows.forEach((row, r) => signalTimeframes.forEach((tf, c) => signalCells.push({row, tf, state: signalStates[r][c]})));
const signalPlot = Plot.plot({
  width: 240, height: 150,
  marginLeft: 60.5, marginRight: 12.5, marginTop: 79, marginBottom: 11,
  x: {type: "band", domain: signalTimeframes, padding: 0},
  y: {type: "band", domain: signalRows, padding: 0},
  color: {type: "identity"},
  style: plotStyle,
  marks: [
    Plot.cell(signalCells, {x: "tf", y: "row", fill: d => signalPalette[d.state], insetLeft: 3.2, insetRight: 3.2, insetTop: 6, insetBottom: 6}),
    Plot.axisX({anchor: "top", tickSize: 0, tickPadding: 11, fontSize: 14, fontWeight: "bold", fill: "#0000c8", label: null}),
    Plot.axisY({anchor: "left", tickSize: 0, tickPadding: 1, fontSize: 13, fill: "#1414a0", label: null})
  ]
});
place(signalPlot, 2150, 0);

// HUD texts
function hud(parts, {left, right, cy, size}) {
  const d = document.createElement("div");
  d.className = "hud";
  d.style.fontSize = size + "px";
  d.style.top = (cy - 0.5 * size) + "px";
  if (right !== undefined) { d.style.right = (2500 - right) + "px"; d.style.textAlign = "right"; }
  else d.style.left = left + "px";
  for (const [t, c] of parts) { const s = document.createElement("span"); s.textContent = t; s.style.color = c; d.appendChild(s); }
  root.appendChild(d);
}
hud([["Signals", "#1e1eb4"]], {left: 2276, cy: 33, size: 18});
hud([[bidText, "#e01010"]], {right: 2397, cy: 176, size: 33});
infoLabels.forEach((lab, k) => hud([[lab, "#1a1ab8"], [infoValues[k], infoValueColors[k]]], {right: 2404, cy: infoCenters[k], size: 19}));

// frame lines
function box(css) { const d = document.createElement("div"); d.style.cssText = "position:absolute;" + css; root.appendChild(d); return d; }
box("left:0;top:0;width:2500px;height:1px;background:#9a9a9a;");
box("left:0;top:995px;width:2423px;height:2px;background:#a8a8a8;");

// tabs
box("left:0;top:1157px;width:2500px;height:38px;background:#f0f0f0;border-top:1px solid #b9b9b9;box-sizing:border-box;");
tabNames.forEach((name, k) => {
  const l = tabEdges[k], r = tabEdges[k + 1];
  const active = name === activeTab;
  const t = box(`left:${l}px;top:${active ? 1156 : 1158}px;width:${r - l}px;height:${active ? 39 : 36}px;` +
    `box-sizing:border-box;text-align:center;line-height:${active ? 39 : 36}px;font-size:18px;white-space:nowrap;overflow:hidden;` +
    (active ? "background:#fff;color:#111;border-left:1px solid #a0a0a0;border-right:1px solid #a0a0a0;border-bottom:1px solid #a0a0a0;"
            : "color:#555;border-right:1px solid #c8c8c8;"));
  t.textContent = name;
});
const arrows = box("left:2445px;top:1158px;width:55px;height:36px;line-height:36px;font-size:12px;color:#111;text-align:center;letter-spacing:12px;background:#f0f0f0;");
arrows.textContent = "\u25C0\u25B6";
box("left:0;top:1195px;width:2500px;height:12px;background:#f0f0f0;border-top:1px solid #d4d4d4;box-sizing:border-box;");
[1398, 1583, 1750, 1862, 1973, 2081, 2190, 2297].forEach(x => box(`left:${x}px;top:1197px;width:1px;height:10px;background:#c0c0c0;`));
box("left:2300px;top:1199px;width:40px;height:8px;background:repeating-linear-gradient(90deg,#6b8e23 0 3px,transparent 3px 6px);");
</script>
</body>
</html>
